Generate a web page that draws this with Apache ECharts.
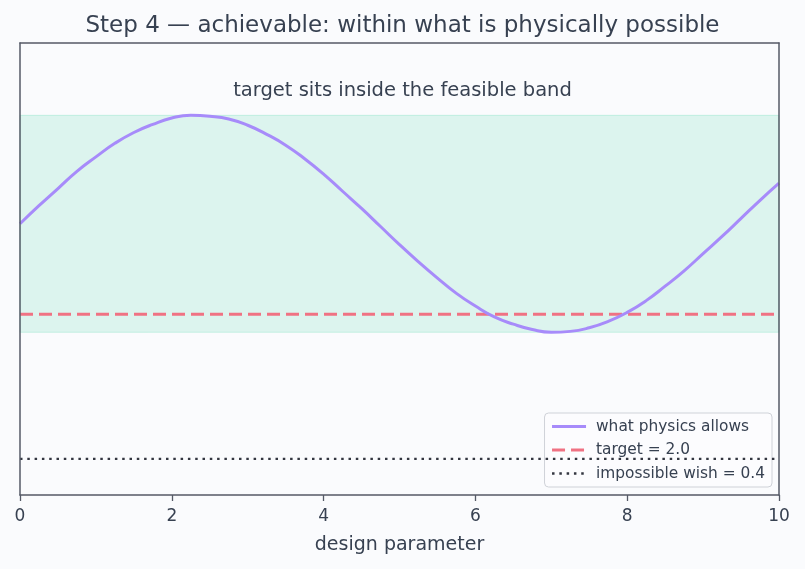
<!DOCTYPE html>
<html><head><meta charset="utf-8">
<script src="https://cdn.jsdelivr.net/npm/echarts@6/dist/echarts.min.js"></script>
<style>html,body{margin:0;padding:0;background:#fafbfd;}#c{width:805px;height:569px;}</style>
</head><body><div id="c"></div>
<script>
const titleText = 'Step 4 \u2014 achievable: within what is physically possible';
const noteText = 'target sits inside the feasible band';
const xName = 'design parameter';
const xTicks = [0, 2, 4, 6, 8, 10];
const curveX = [0,0.25,0.5,0.75,1,1.25,1.5,1.75,2,2.25,2.5,2.75,3,3.25,3.5,3.75,4,4.25,4.5,4.75,5,5.25,5.5,5.75,6,6.25,6.5,6.75,7,7.25,7.5,7.75,8,8.25,8.5,8.75,9,9.25,9.5,9.75,10];
const curveY = [3.00,3.20,3.39,3.58,3.74,3.89,4.01,4.10,4.17,4.20,4.19,4.16,4.09,3.99,3.87,3.72,3.55,3.36,3.17,2.97,2.77,2.58,2.40,2.23,2.09,1.97,1.89,1.83,1.80,1.81,1.85,1.92,2.02,2.15,2.31,2.48,2.67,2.86,3.06,3.26,3.45];
const bandLow = 1.8, bandHigh = 4.2;
const target = 2.0;
const wish = 0.4;
const names = ['what physics allows', 'target = 2.0', 'impossible wish = 0.4'];

const chart = echarts.init(document.getElementById('c'), null, {renderer:'canvas'});
const txt = '#374151', frame = '#555a66';
const F = 'DejaVu Sans';
const cCurve = '#a78bfa', cTarget = '#f07283', cWish = '#333640';
chart.setOption({
  backgroundColor:'#fafbfd',
  animation:false,
  textStyle:{fontFamily:F},
  title:{text:titleText, left:'center', top:10, textStyle:{fontSize:23, fontWeight:'normal', color:txt, fontFamily:F}},
  grid:{left:20, right:26, top:43, bottom:74},
  xAxis:[{type:'value', min:0, max:10, interval:2, name:xName, nameLocation:'middle', nameGap:41,
    nameTextStyle:{fontSize:19, color:txt, fontFamily:F},
    axisLine:{lineStyle:{color:frame, width:1.5}}, axisTick:{length:6, lineStyle:{color:frame, width:1.3}},
    axisLabel:{fontSize:17, color:txt, margin:13, fontFamily:F}, splitLine:{show:false}, z:10},
    {type:'value', min:0, max:10, position:'top', axisLine:{show:true, onZero:false, lineStyle:{color:frame, width:1.5}},
     axisTick:{show:false}, axisLabel:{show:false}, splitLine:{show:false}, z:10}],
  yAxis:[{type:'value', min:0, max:5, axisLabel:{show:false}, axisTick:{show:false}, splitLine:{show:false},
    axisLine:{show:true, onZero:false, lineStyle:{color:frame, width:1.5}}, z:10},
    {type:'value', min:0, max:5, position:'right', axisLabel:{show:false}, axisTick:{show:false}, splitLine:{show:false},
    axisLine:{show:true, onZero:false, lineStyle:{color:frame, width:1.5}}, z:10}],
  legend:{orient:'vertical', right:33, bottom:82, itemWidth:34, itemHeight:14, itemGap:8.5,
    itemStyle:{opacity:0},
    backgroundColor:'rgba(252,252,254,0.85)', borderColor:'#cfd2d8', borderWidth:1, borderRadius:4, padding:[6,7,6,6],
    textStyle:{fontSize:15.4, color:txt, fontFamily:F, padding:[0,0,0,5]},
    data:[
      {name:names[0], lineStyle:{width:3, color:cCurve}},
      {name:names[1], lineStyle:{width:3, color:cTarget, type:[13,6]}},
      {name:names[2], lineStyle:{width:2.3, color:cWish, type:[2.5,4.8]}}
    ]},
  series:[
    {name:'band', type:'line', data:[], silent:true,
      markArea:{silent:true, itemStyle:{color:'rgba(52,211,153,0.15)', borderColor:'rgba(52,211,153,0.22)', borderWidth:1},
        data:[[{xAxis:0, yAxis:bandLow},{xAxis:10, yAxis:bandHigh}]]}},
    {name:names[0], type:'line', smooth:0.5, symbol:'none', z:5,
      data:curveX.map((x,i)=>[x,curveY[i]]), lineStyle:{color:cCurve, width:3}, itemStyle:{color:cCurve}},
    {name:names[1], type:'line', symbol:'none', z:4, data:[[0,target],[10,target]],
      lineStyle:{color:cTarget, width:3, type:[13,6]}, itemStyle:{color:cTarget}},
    {name:names[2], type:'line', symbol:'none', z:4, data:[[0,wish],[10,wish]],
      lineStyle:{color:cWish, width:2.3, type:[2.5,4.8]}, itemStyle:{color:cWish}}
  ],
  graphic:[{type:'text', left:'center', top:81, style:{text:noteText, font:'19.5px "DejaVu Sans"', fill:txt}}]
});
</script></body></html>
